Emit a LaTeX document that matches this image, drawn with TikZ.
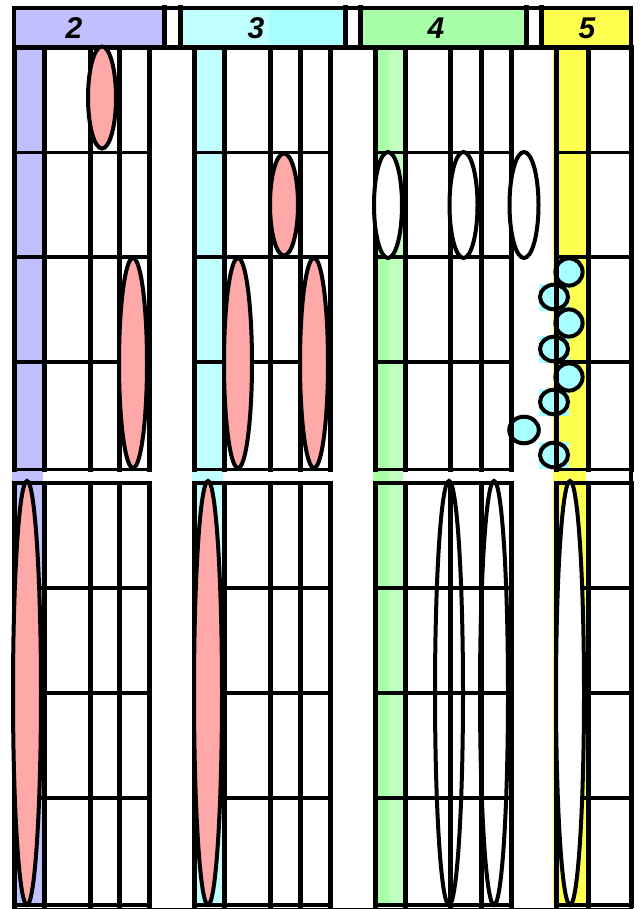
\documentclass[tikz,border=0pt]{standalone}
\usepackage{fontspec}
\setmainfont{Liberation Sans}
\definecolor{lav}{HTML}{C0C0FF}
\definecolor{cyanlt}{HTML}{C0FFFF}
\definecolor{cyandk}{HTML}{A8FFFF}
\definecolor{greendk}{HTML}{A8FFA8}
\definecolor{greenlt}{HTML}{C0FFC0}
\definecolor{yel}{HTML}{FFFF50}
\definecolor{rose}{HTML}{FFA8A8}
\begin{document}
\begin{tikzpicture}[x=1pt,y=-1pt,
  vline/.style={line width=5pt,line cap=rect},
  hline/.style={line width=3.8pt,line cap=rect},
  blob/.style={line width=4pt},
  numlabel/.style={font=\fontsize{30}{30}\selectfont\bfseries\itshape}]
  \fill[white] (0,0) rectangle (639,909);
  \useasboundingbox (0,0) rectangle (639,909);
  % outer frame
  \draw[line width=4.5pt] (14,8) rectangle (631,910);
  % coloured strips
  \fill[lav] (12,47) rectangle (43,905);
  \fill[cyanlt] (192,47) rectangle (223,905);
  \fill[greendk] (373,47) rectangle (389,905);
  \fill[greenlt] (389,47) rectangle (403,905);
  \fill[yel] (553,47) rectangle (586,905);
  % header
  \fill[lav] (16,10) rectangle (162,45);
  \fill[cyanlt] (182,10) rectangle (269,45);
  \fill[cyandk] (269,10) rectangle (343,45);
  \fill[greendk] (363,10) rectangle (524,45);
  \fill[yel] (544,10) rectangle (629,45);
  \draw[vline] (14,47.5) -- (631,47.5);
  \foreach \x in {164.5,180,345.5,360.5,526.5,541.5}
    \draw[vline] (\x,8) -- (\x,47.5);
  % small circles
  \foreach \y in {297,349,402,455} {
    \fill[cyandk] (539,\y-13.5) rectangle (569,\y+13.5);
    \draw[blob,fill=cyandk] (554,\y) ellipse[x radius=14,y radius=12.3];
  }
  \foreach \y in {272,323,377}
    \draw[blob,fill=cyandk] (569,\y) ellipse[x radius=13.6,y radius=13.6];
  \draw[blob,fill=cyandk] (524,430) ellipse[x radius=14.8,y radius=13.3];
  % grid
  \foreach \x in {14,44,90,119.5,149.5,194.5,224.5,270,300,330.5,
                  375.5,405.5,450.5,481.5,511.5,556.5,588,631} {
    \draw[vline] (\x,47.5) -- (\x,469.5);
    \draw[vline] (\x,483) -- (\x,905);
  }
  \foreach \l/\r in {14/149.5,194.5/330.5,375.5/511.5,556.5/631}
    \foreach \y in {152.5,257,362,469.5,483,588,693,798,905}
      \draw[hline] (\l,\y) -- (\r,\y);
  % upper ellipses
  \draw[blob,fill=rose] (102,97.5) ellipse[x radius=14,y radius=51];
  \draw[blob,fill=rose] (284,204.5) ellipse[x radius=14,y radius=51];
  \foreach \x in {133,238,314}
    \draw[blob,fill=rose] (\x,363) ellipse[x radius=14,y radius=105];
  \foreach \x/\r in {388/14,463.5/14,524/14.5}
    \draw[blob,fill=white] (\x,205) ellipse[x radius=\r,y radius=53];
  % lower ellipses
  \foreach \x in {27,208}
    \draw[blob,fill=rose] (\x,693) ellipse[x radius=14,y radius=212];
  \foreach \x in {449,494}
    \draw[blob] (\x,693) ellipse[x radius=14,y radius=212];
  \draw[blob,fill=white] (570,693) ellipse[x radius=14,y radius=212];
  % labels
  \node[numlabel] (h2) at (74,28) {2};
  \node[numlabel] (h3) at (256,28) {3};
  \node[numlabel] (h4) at (436,28) {4};
  \node[numlabel] (h5) at (587,28) {5};
\end{tikzpicture}
\end{document}
